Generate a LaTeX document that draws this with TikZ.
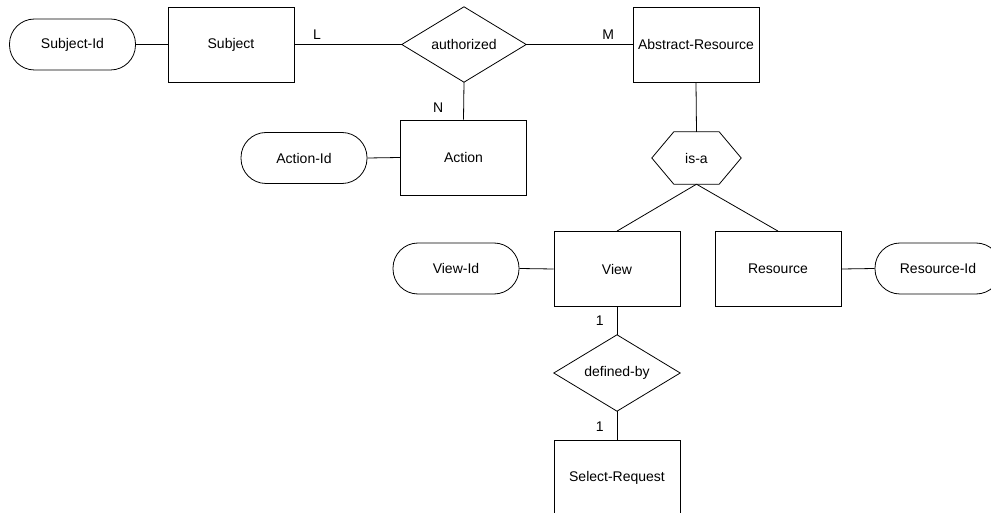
\documentclass[tikz,border=0pt]{standalone}
\usepackage{fontspec}
\setmainfont{Liberation Sans}
\usetikzlibrary{calc}
\begin{document}
\begin{tikzpicture}[x=1pt,y=-1pt,
  every node/.style={font=\fontsize{14}{17}\selectfont, inner sep=0pt},
  conn/.style={draw=black, line width=0.8pt},
  entity/.style={draw=black, line width=0.8pt, rectangle, minimum width=126pt, minimum height=75pt},
  attrib/.style={draw=black, line width=0.8pt, rectangle, rounded corners=25pt, minimum width=126pt, minimum height=51pt},
  relframe/.style={rectangle, minimum width=124pt, minimum height=75pt},
  hexframe/.style={rectangle, minimum width=89pt, minimum height=52pt},
  card/.style={font=\fontsize{14}{17}\selectfont}
]
\useasboundingbox (0,0) rectangle (991,513);

% entities
\node[entity] (subj)   at (231,44.5)   {Subject};
\node[entity] (absres) at (696,44.5)   {Abstract-Resource};
\node[entity] (act)    at (463.5,157.5){Action};
\node[entity] (view)   at (617,269)    {View};
\node[entity] (res)    at (778,269)    {Resource};
\node[entity] (selreq) at (617,477.5)  {Select-Request};

% key attributes
\node[attrib] (sid) at (72.5,44.5) {Subject-Id};
\node[attrib] (aid) at (304,158)   {Action-Id};
\node[attrib] (vid) at (456,268.5) {View-Id};
\node[attrib] (rid) at (938,268.5) {Resource-Id};

% relationships (diamonds)
\node[relframe] (auth)  at (464,44.5) {authorized};
\node[relframe, minimum width=126pt, minimum height=76pt] (defby) at (617,373) {defined-by};
\foreach \r in {auth,defby}
  \draw[conn] (\r.west) -- (\r.north) -- (\r.east) -- (\r.south) -- cycle;

% generalisation (hexagon)
\node[hexframe] (isa) at (696.5,158) {is-a};
\draw[conn] (isa.west) -- ($(isa.north west)+(22,0)$) -- ($(isa.north east)+(-22,0)$)
  -- (isa.east) -- ($(isa.south east)+(-22,0)$) -- ($(isa.south west)+(22,0)$) -- cycle;

% connectors
\draw[conn] (sid.east) -- (subj.west);
\draw[conn] (subj.east) -- node[card, pos=0.21, above=5pt] {L} (auth.west);
\draw[conn] (auth.east) -- node[card, pos=0.77, above=5pt] {M} (absres.west);
\draw[conn] (auth.south) -- node[card, pos=0.68, left=20pt] {N} (act.north);
\draw[conn] (aid.east) -- (act.west);
\draw[conn] (absres.south) -- (isa.north);
\draw[conn] (isa.south) -- (view.north);
\draw[conn] (isa.south) -- (res.north);
\draw[conn] (vid.east) -- (view.west);
\draw[conn] (res.east) -- (rid.west);
\draw[conn] (view.south) -- node[card, pos=0.5, left=13pt] {1} (defby.north);
\draw[conn] (defby.south) -- node[card, pos=0.55, left=13pt] {1} (selreq.north);
\end{tikzpicture}
\end{document}
